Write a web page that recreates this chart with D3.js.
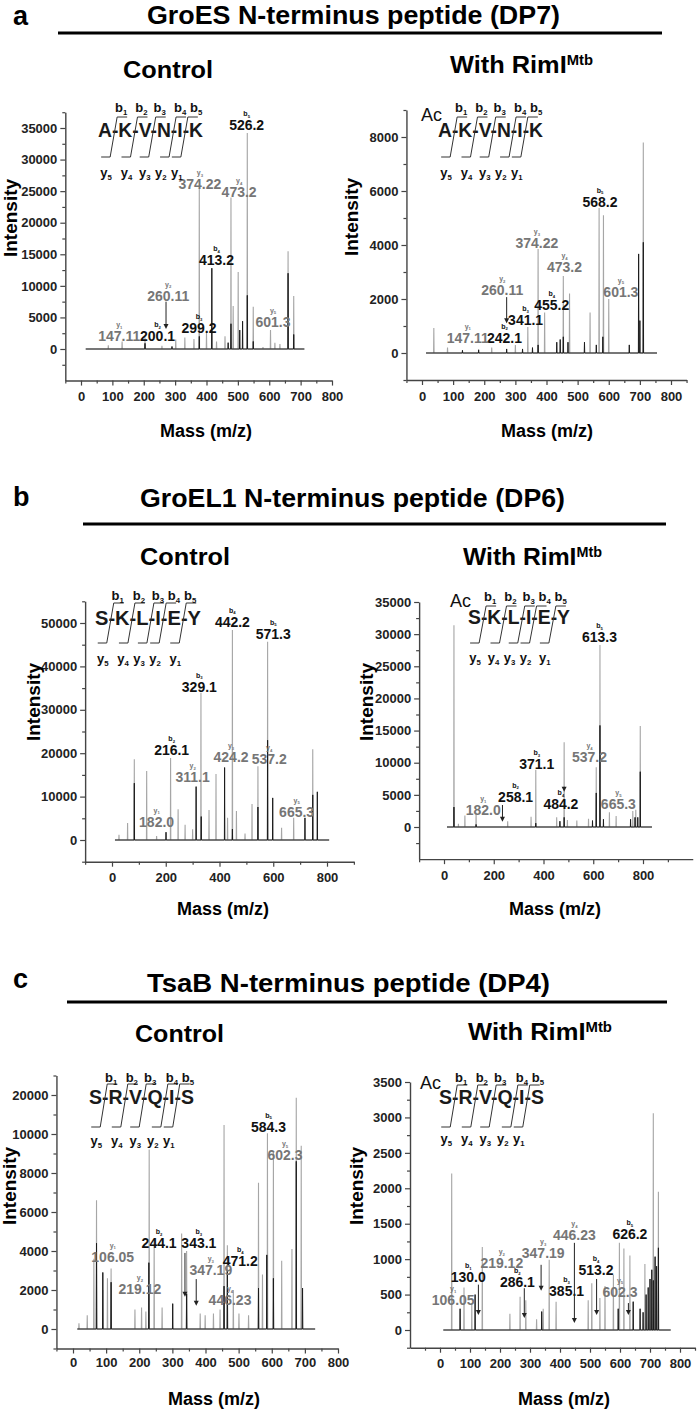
<!DOCTYPE html>
<html>
<head>
<meta charset="utf-8">
<script src="https://cdn.jsdelivr.net/npm/d3@7"></script>
<style>
  body { margin: 0; background: #fff; }
  svg { display: block; }
  text { font-family: "Liberation Sans", Arial, sans-serif; }
</style>
</head>
<body>
<div id="fig"></div>
<script>
// ---- data: [m/z, intensity] ----
var aCtrlGray = [[87,600],[131,1200],[204,1800],[258,500],[302,1500],[331,1800],[360,1600],[377,25500],[400,2600],[432,1200],[459,2000],[478,24000],[485,6800],[501,12200],[530,34200],[549,6700],[580,300],[604,3000],[618,1000],[634,800],[660,15500],[678,8400]];
var aCtrlBlack = [[204,900],[290,400],[377,2000],[417,12800],[469,1000],[478,4000],[506,3000],[515,4400],[530,8500],[549,1200],[660,12000],[678,2300]];
var aRimGray = [[38,930],[82,200],[224,200],[300,300],[340,960],[373,3850],[394,1500],[454,2850],[474,2200],[540,1500],[569,5370],[583,5100],[600,2000],[711,7800]];
var aRimBlack = [[130,100],[182,120],[272,150],[323,150],[355,200],[373,300],[433,400],[444,500],[454,600],[469,400],[522,400],[560,300],[581,600],[666,300],[696,3670],[700,1200],[711,4100]];

var bCtrlGray = [[26,1200],[58,3900],[83,18600],[129,15900],[166,900],[218,18900],[246,7100],[272,3500],[300,2500],[331,33900],[361,6900],[387,15200],[430,5100],[448,48400],[463,6700],[495,1500],[521,8300],[543,17000],[579,45700],[631,2800],[676,5100],[747,20900]];
var bCtrlBlack = [[83,13100],[201,1800],[313,12300],[332,5400],[419,16700],[448,2500],[543,7600],[579,23000],[598,9700],[718,5100],[747,10400],[764,11100]];
var bRimGray = [[40,31400],[58,500],[84,1800],[129,2200],[256,900],[350,1600],[369,8900],[453,1500],[483,13200],[496,1100],[534,1000],[581,1300],[612,9300],[627,28300],[665,2300],[692,1700],[759,2500],[771,2700],[789,15700]];
var bRimBlack = [[40,3100],[129,400],[369,600],[466,900],[483,1500],[597,1000],[612,5300],[627,15800],[641,1200],[750,1200],[768,1500],[779,1500],[789,8600]];

var cCtrlGray = [[18,300],[43,700],[63,3600],[71,6600],[90,2000],[104,2600],[115,3100],[187,1000],[207,1100],[220,900],[230,9200],[245,4600],[269,1100],[328,4900],[343,4000],[384,800],[399,700],[424,800],[444,1000],[456,12300],[466,4300],[484,2000],[501,800],[530,700],[560,7500],[572,2800],[587,10200],[605,9100],[630,3500],[661,4100],[674,19300],[689,9400]];
var cCtrlBlack = [[71,4400],[90,2900],[115,2400],[229,3400],[301,1300],[343,1800],[456,2200],[466,3000],[560,2100],[585,3800],[605,2600],[674,8600],[693,2100]];
var cRimGray = [[39,2210],[80,600],[106,380],[141,1170],[233,230],[267,470],[286,420],[322,150],[344,300],[364,990],[387,400],[494,420],[506,660],[533,450],[550,620],[578,780],[598,1230],[613,1150],[633,1050],[683,930],[711,3060],[728,1950]];
var cRimBlack = [[67,300],[117,500],[339,260],[594,300],[644,400],[667,300],[677,250],[687,500],[694,600],[700,720],[706,850],[711,700],[717,1035],[722,900],[728,1160]];

// ---- peak labels: [text, ion, index, m/z, intensity] ----
var aCtrlLabels = [["526.2","b","5",528,34650],["374.22","y","3",379,25300],["473.2","y","4",504,24000],["413.2","b","4",432,13300],["260.11","y","2",278,7650],["299.2","b","3",376,2480],["200.1","b","2",244,1270],["147.11","y","1",122,1270],["601.3","y","5",612,3530]];
var aRimLabels = [["568.2","b","5",572,5420],["374.22","y","3",369,3880],["473.2","y","4",458,2990],["260.11","y","2",258,2150],["455.2","b","4",417,1590],["341.1","b","3",333,1040],["242.1","b","2",265,380],["147.11","y","1",147,380],["601.3","y","5",639,2090]];
var bCtrlLabels = [["442.2","b","4",448,49150],["571.3","b","5",600,46400],["329.1","b","3",325,34200],["216.1","b","2",222,19600],["311.1","y","2",300,13400],["424.2","y","3",443,18000],["537.2","y","4",585,17500],["182.0","y","1",166,3070],["665.3","y","5",687,5370]];
var bRimLabels = [["613.3","b","5",625,28770],["371.1","b","3",373,8960],["258.1","b","2",288,3930],["484.2","b","4",470,2800],["537.2","y","4",585,10140],["182.0","y","1",158,1860],["665.3","y","5",701,2800]];
var cCtrlLabels = [["584.3","b","5",590,10600],["602.3","y","5",640,8670],["244.1","b","2",260,4140],["343.1","b","3",380,4140],["471.2","b","4",505,3230],["106.05","y","1",120,3450],["219.12","y","2",202,1800],["347.19","y","3",416,2770],["446.23","y","4",474,1230]];
var cRimLabels = [["626.2","b","5",633,1285],["513.2","b","4",520,770],["446.23","y","4",448,1270],["385.1","b","3",422,480],["347.19","y","3",344,1010],["286.1","b","2",258,610],["219.12","y","2",206,870],["130.0","b","1",94,680],["106.05","y","1",44,350],["602.3","y","5",600,470]];

// ---- arrows: [m/z, from intensity, to intensity] ----
var aCtrlArrows = [[271,7490,3160]];
var aRimArrows = [[272,2070,1100]];
var bCtrlArrows = [];
var bRimArrows = [[235,3420,820],[483,6260,5480]];
var cCtrlArrows = [[338,3900,1660],[372,2560,1190]];
var cRimArrows = [[128,640,210],[281,590,170],[337,920,555],[448,1230,100],[522,720,210],[628,380,210]];

// ---- ticks ----
var xTicks100 = [0,100,200,300,400,500,600,700,800];
var xTicks200 = [0,200,400,600,800];
var aCtrlYTicks = [0,5000,10000,15000,20000,25000,30000,35000];
var aRimYTicks = [0,2000,4000,6000,8000];
var bCtrlYTicks = [0,10000,20000,30000,40000,50000];
var bRimYTicks = [0,5000,10000,15000,20000,25000,30000,35000];
var cCtrlYTicks = [0,2000,4000,6000,8000,10000,20000];
var cRimYTicks = [0,500,1000,1500,2000,2500,3000,3500];

var width = 697, height = 1413;
var grayC = "#767676";

var svg = d3.select("#fig").append("svg")
  .attr("width", width)
  .attr("height", height);

// panel layout (pixel positions of the axes)
var panels = [
  {x800:[81,332], xExt:[-50,800], xTicks:xTicks100, yd:[0,35000], yr:[349,128], yExt:[-5000,37500], yTicks:aCtrlYTicks,
   gray:aCtrlGray, black:aCtrlBlack, span:[15,712], labels:aCtrlLabels, arrows:aCtrlArrows,
   intX:17, intY:218, tickY:401, massX:206, massY:437,
   pep:{seq:"A-K-V-N-I-K", x:98, y:137, w:105, top:117, bot:157, bY:112, yY:177}},
  {x800:[422,671], xExt:[-50,850], xTicks:xTicks100, yd:[0,8000], yr:[353,137], yExt:[-1000,9000], yTicks:aRimYTicks,
   gray:aRimGray, black:aRimBlack, span:[13,755], labels:aRimLabels, arrows:aRimArrows,
   intX:358, intY:217, tickY:401, massX:547, massY:437,
   pep:{seq:"A-K-V-N-I-K", x:438, y:137, w:105, ac:[421,121], top:117, bot:157, bY:112, yY:177}},
  {x800:[112,327], xExt:[-100,900], xTicks:xTicks200, yd:[0,50000], yr:[840,623], yExt:[-5000,55000], yTicks:bCtrlYTicks,
   gray:bCtrlGray, black:bCtrlBlack, span:[11,808], labels:bCtrlLabels, arrows:bCtrlArrows,
   intX:40, intY:702, tickY:882, massX:223, massY:915,
   pep:{seq:"S-K-L-I-E-Y", x:95, y:625, w:106, top:603, bot:643, bY:600, yY:663}},
  {x800:[444,643], xExt:[-100,1000], xTicks:xTicks200, yd:[0,35000], yr:[827,602], yExt:[-5000,35000], yTicks:bRimYTicks,
   gray:bRimGray, black:bRimBlack, span:[12,836], labels:bRimLabels, arrows:bRimArrows,
   intX:373, intY:702, tickY:880, massX:555, massY:915,
   pep:{seq:"S-K-L-I-E-Y", x:468, y:624, w:102, ac:[450,607], top:606, bot:643, bY:601, yY:662}},
  {x800:[73,338], xExt:[-50,800], xTicks:xTicks100, yd:[0,10000,20000], yr:[1329,1134,1095], yExt:[-1000,25000], yTicks:cCtrlYTicks,
   gray:cCtrlGray, black:cCtrlBlack, span:[13,731], labels:cCtrlLabels, arrows:cCtrlArrows,
   intX:16, intY:1186, tickY:1367, massX:214, massY:1405,
   pep:{seq:"S-R-V-Q-I-S", x:89, y:1104, w:105, top:1084, bot:1127, bY:1082, yY:1145}},
  {x800:[440,680], xExt:[-100,850], xTicks:xTicks100, yd:[0,3500], yr:[1330,1082], yExt:[-250,3500], yTicks:cRimYTicks,
   gray:cRimGray, black:cRimBlack, span:[11,769], labels:cRimLabels, arrows:cRimArrows,
   intX:363, intY:1186, tickY:1368, massX:564, massY:1405,
   pep:{seq:"S-R-V-Q-I-S", x:439, y:1104, w:105, ac:[420,1089], top:1085, bot:1127, bY:1082, yY:1143}}
];

// section headings
var sections = [
  {letter:"a", ly:25, title:"GroES N-terminus peptide (DP7)", tx:147, tw:413, ty:24, ux:[58,662], uy:33,
   ctrl:[123,90,78], rim:[450,143,73]},
  {letter:"b", ly:506, title:"GroEL1 N-terminus peptide (DP6)", tx:140, tw:425, ty:507, ux:[83,666], uy:524,
   ctrl:[140,90,565], rim:[463,139,565]},
  {letter:"c", ly:988, title:"TsaB N-terminus peptide (DP4)", tx:147, tw:403, ty:992, ux:[67,667], uy:1002,
   ctrl:[135,89,1042], rim:[468,144,1040]}
];

sections.forEach(function(s) {
  svg.append("text").attr("x", 13).attr("y", s.ly)
    .attr("font-size", 27).attr("font-weight", "bold").text(s.letter);
  svg.append("text").attr("x", s.tx).attr("y", s.ty)
    .attr("font-size", 25).attr("font-weight", "bold")
    .attr("textLength", s.tw).attr("lengthAdjust", "spacingAndGlyphs")
    .text(s.title);
  svg.append("line").attr("x1", s.ux[0]).attr("x2", s.ux[1]).attr("y1", s.uy).attr("y2", s.uy)
    .attr("stroke", "#000").attr("stroke-width", 3);
  svg.append("text").attr("x", s.ctrl[0]).attr("y", s.ctrl[2])
    .attr("font-size", 24).attr("font-weight", "bold")
    .attr("textLength", s.ctrl[1]).attr("lengthAdjust", "spacingAndGlyphs")
    .text("Control");
  var r = svg.append("text").attr("x", s.rim[0]).attr("y", s.rim[2])
    .attr("font-size", 24).attr("font-weight", "bold")
    .attr("textLength", s.rim[1]).attr("lengthAdjust", "spacingAndGlyphs");
  r.append("tspan").text("With RimI");
  r.append("tspan").attr("font-size", 14).attr("dy", -8).text("Mtb");
});

// minor ticks halfway between the major ones
function minors(major, ext) {
  var out = [];
  var s0 = major[1] - major[0];
  if (major[0] - s0 / 2 >= ext[0]) out.push(major[0] - s0 / 2);
  for (var i = 0; i < major.length - 1; i++) out.push((major[i] + major[i + 1]) / 2);
  var s1 = major[major.length - 1] - major[major.length - 2];
  if (major[major.length - 1] + s1 / 2 <= ext[1]) out.push(major[major.length - 1] + s1 / 2);
  return out;
}

// spectrum trace: flat baseline with a narrow spike per peak
function trace(peaks, span) {
  var pts = [[span[0], 0]];
  peaks.slice().sort(function(a, b) { return a[0] - b[0]; }).forEach(function(p) {
    pts.push([p[0] - 0.8, 0], [p[0], p[1]], [p[0] + 0.8, 0]);
  });
  pts.push([span[1], 0]);
  return pts;
}

function ionLabel(g, x, y, ion, idx, color, size) {
  var t = g.append("text").attr("x", x).attr("y", y)
    .attr("text-anchor", "middle").attr("font-size", size)
    .attr("font-weight", "bold").attr("fill", color);
  t.append("tspan").text(ion);
  t.append("tspan").attr("font-size", size * 0.6).attr("dy", size * 0.25).text(idx);
}

function drawPeptide(g, p) {
  if (p.ac) {
    g.append("text").attr("x", p.ac[0]).attr("y", p.ac[1])
      .attr("font-size", 18).attr("fill", "#111").text("Ac");
  }
  var t = g.append("text").attr("x", p.x).attr("y", p.y)
    .attr("font-size", 20).attr("font-weight", "bold").attr("fill", "#1a1a1a")
    .attr("textLength", p.w).attr("lengthAdjust", "spacingAndGlyphs")
    .text(p.seq);
  var node = t.node();
  var k = 0, lastB = -99, yPos = [];
  for (var i = 0; i < p.seq.length; i++) {
    if (p.seq[i] !== "-") continue;
    k++;
    var xd = (node.getStartPositionOfChar(i).x + node.getEndPositionOfChar(i).x) / 2;
    g.append("path")
      .attr("d", "M" + (xd - 14) + "," + p.bot + "H" + (xd - 5) + "L" + (xd + 2) + "," + p.top + "H" + (xd + 12))
      .attr("fill", "none").attr("stroke", "#333").attr("stroke-width", 1);
    var bx = Math.max(xd + 6, lastB + 16);
    lastB = bx;
    ionLabel(g, bx, p.bY, "b", String(k), "#111", 13);
    yPos.push(xd - 9);
  }
  // y labels, spread so they don't collide
  for (var j = yPos.length - 2; j >= 0; j--) {
    if (yPos[j] > yPos[j + 1] - 16) yPos[j] = yPos[j + 1] - 16;
  }
  yPos.forEach(function(yx, j) {
    ionLabel(g, yx, p.yY, "y", String(5 - j), "#111", 13);
  });
}

panels.forEach(function(p) {
  var g = svg.append("g");
  var base = d3.scaleLinear().domain([0, 800]).range(p.x800);
  var x = d3.scaleLinear().domain(p.xExt).range(p.xExt.map(base));
  var ybase = d3.scaleLinear().domain(p.yd).range(p.yr);
  var yDom = [p.yExt[0]].concat(p.yd);
  if (p.yExt[1] > p.yd[p.yd.length - 1]) yDom.push(p.yExt[1]);
  var y = d3.scaleLinear().domain(yDom).range(yDom.map(ybase));

  var x0 = x.range()[0], yb = y(p.yExt[0]);

  // minor ticks
  g.append("g").attr("transform", "translate(0," + yb + ")")
    .call(d3.axisBottom(x).tickValues(minors(p.xTicks, p.xExt)).tickSize(3).tickSizeOuter(0).tickFormat(""))
    .call(function(s) { s.select(".domain").remove(); });
  g.append("g").attr("transform", "translate(" + x0 + ",0)")
    .call(d3.axisLeft(y).tickValues(minors(p.yTicks, p.yExt)).tickSize(3).tickSizeOuter(0).tickFormat(""))
    .call(function(s) { s.select(".domain").remove(); });

  // major axes
  var xa = g.append("g").attr("transform", "translate(0," + yb + ")")
    .call(d3.axisBottom(x).tickValues(p.xTicks).tickSize(5).tickSizeOuter(0).tickFormat(d3.format("d")));
  xa.selectAll(".tick text").attr("y", p.tickY - yb).attr("dy", 0);
  g.append("g").attr("transform", "translate(" + x0 + ",0)")
    .call(d3.axisLeft(y).tickValues(p.yTicks).tickSize(5).tickSizeOuter(0).tickFormat(d3.format("d")));

  g.selectAll(".domain").attr("stroke", "#444").attr("stroke-width", 1.4);
  g.selectAll(".tick line").attr("stroke", "#444").attr("stroke-width", 1.2);
  g.selectAll(".tick text").attr("font-family", "Liberation Sans, Arial, sans-serif")
    .attr("font-size", 13).attr("font-weight", "bold").attr("fill", "#222");

  // spectra
  var line = d3.line().x(function(d) { return x(d[0]); }).y(function(d) { return y(d[1]); });
  g.append("path").datum(trace(p.gray, p.span)).attr("d", line)
    .attr("fill", "none").attr("stroke", "#a6a6a6").attr("stroke-width", 1.1);
  g.append("path").datum(trace(p.black, p.span)).attr("d", line)
    .attr("fill", "none").attr("stroke", "#1c1c1c").attr("stroke-width", 1);

  // peak labels
  p.labels.forEach(function(l) {
    var col = l[1] === "b" ? "#111" : grayC;
    g.append("text").attr("x", x(l[3])).attr("y", y(l[4]))
      .attr("text-anchor", "middle").attr("font-size", 14).attr("font-weight", "bold")
      .attr("fill", col).text(l[0]);
    ionLabel(g, x(l[3]), y(l[4]) - 14, l[1], l[2], col, 7);
  });

  // arrows
  p.arrows.forEach(function(a) {
    var ax = x(a[0]), y1 = y(a[1]), y2 = y(a[2]);
    g.append("line").attr("x1", ax).attr("x2", ax).attr("y1", y1).attr("y2", y2 - 4)
      .attr("stroke", "#222").attr("stroke-width", 1);
    g.append("path").attr("d", "M" + (ax - 2.5) + "," + (y2 - 5) + "L" + (ax + 2.5) + "," + (y2 - 5) + "L" + ax + "," + y2 + "Z")
      .attr("fill", "#222");
  });

  // axis titles
  g.append("text").attr("transform", "translate(" + p.intX + "," + p.intY + ") rotate(-90)")
    .attr("text-anchor", "middle").attr("font-size", 19).attr("font-weight", "bold")
    .text("Intensity");
  g.append("text").attr("x", p.massX).attr("y", p.massY)
    .attr("text-anchor", "middle").attr("font-size", 18).attr("font-weight", "bold")
    .text("Mass (m/z)");

  drawPeptide(g, p.pep);
});
</script>
</body>
</html>
